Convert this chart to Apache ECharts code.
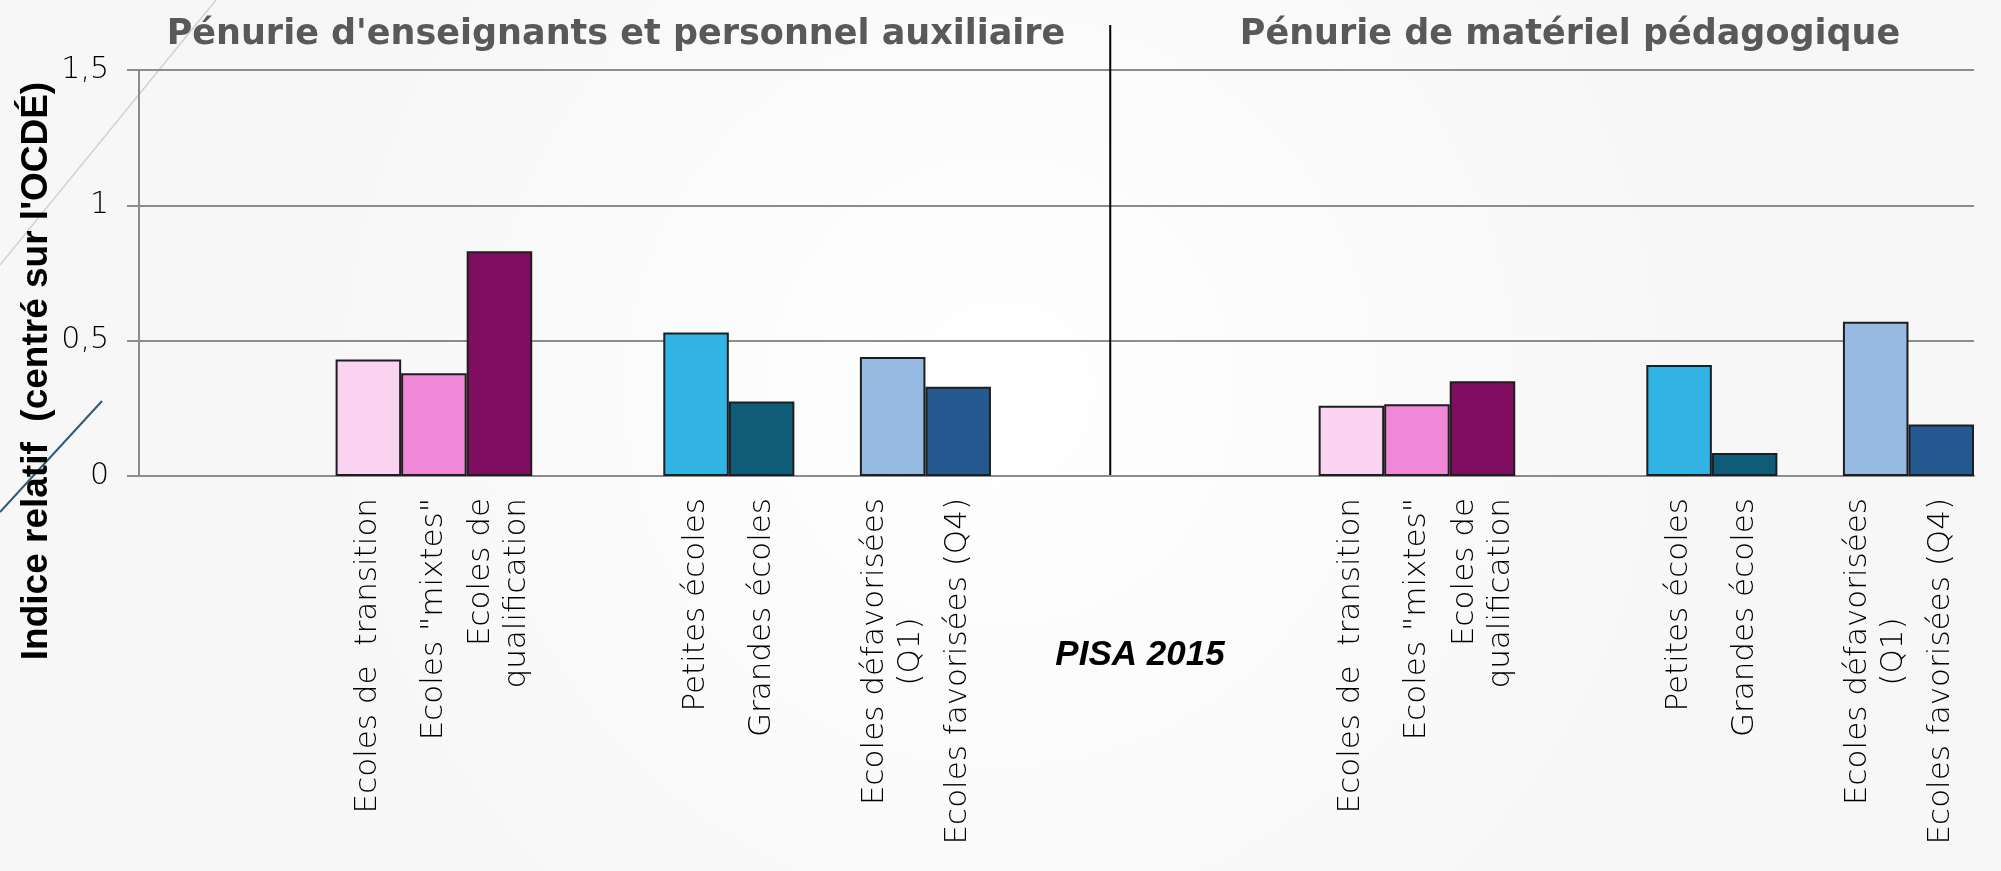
<!DOCTYPE html>
<html>
<head>
<meta charset="utf-8">
<script src="https://cdn.jsdelivr.net/npm/echarts@6/dist/echarts.min.js"></script>
<style>
html, body { margin: 0; padding: 0; }
#chart { width: 2001px; height: 871px; }
</style>
</head>
<body>
<div id="chart"></div>
<script>
// catégories d'écoles (même ordre dans les deux panneaux)
var categories = ['Ecoles de  transition', 'Ecoles "mixtes"', 'Ecoles de\nqualification',
                  'Petites écoles', 'Grandes écoles',
                  'Ecoles défavorisées\n(Q1)', 'Ecoles favorisées (Q4)'];
var barColors = ['#f9d3f0', '#f088d8', '#800e60', '#31b4e4', '#0f5c78', '#96bae1', '#265990'];

// indice relatif (centré sur l'OCDE)
var penurieEnseignants = [0.43, 0.38, 0.83, 0.53, 0.275, 0.44, 0.33];
var penurieMateriel    = [0.26, 0.265, 0.35, 0.41, 0.085, 0.57, 0.19];

var panelTitles = ["Pénurie d'enseignants et personnel auxiliaire", 'Pénurie de matériel pédagogique'];
var yTicks = [0, 0.5, 1, 1.5];

// une case par barre, avec des cases vides entre les groupes
var slotText = [];
var slotData = [];
function gap(n) {
	for (var i = 0; i < n; i++) {
		slotText.push('');
		slotData.push('-');
	}
}
function bars(vals, from, to) {
	for (var i = from; i < to; i++) {
		slotText.push(categories[i]);
		slotData.push({ value: vals[i], itemStyle: { color: barColors[i] } });
	}
}
[penurieEnseignants, penurieMateriel].forEach(function (vals, p) {
	gap(p === 0 ? 3 : 5);
	bars(vals, 0, 3);
	gap(2);
	bars(vals, 3, 5);
	gap(1);
	bars(vals, 5, 7);
});

var labelFont = 'DejaVu Sans';

var myChart = echarts.init(document.getElementById('chart'));
var option = {
	animation: false,
	backgroundColor: {
		type: 'radial', x: 0.5, y: 0.45, r: 0.8,
		colorStops: [{ offset: 0, color: '#ffffff' }, { offset: 1, color: '#f7f7f7' }]
	},
	grid: { left: 139, right: 27, top: 70, height: 406 },
	xAxis: {
		type: 'category',
		data: slotText.map(function (t, i) { return 's' + i; }),
		axisLine: { show: true, lineStyle: { color: '#8c8c8c', width: 2 } },
		axisTick: { show: false },
		axisLabel: {
			interval: 0,
			rotate: 90,
			margin: 22,
			fontFamily: labelFont,
			fontWeight: 300,
			fontSize: 31,
			lineHeight: 36,
			color: '#000',
			formatter: function (v, i) {
				// deuxième ligne entre parenthèses : centrée
				return slotText[i].replace(/\n(\(.*\))$/, '\n{c|$1}');
			},
			rich: {
				c: { align: 'center', fontFamily: labelFont, fontWeight: 300, fontSize: 31, lineHeight: 36, color: '#000' }
			}
		}
	},
	yAxis: {
		type: 'value',
		min: yTicks[0],
		max: yTicks[yTicks.length - 1],
		interval: 0.5,
		axisLine: { show: true, lineStyle: { color: '#8c8c8c', width: 2 } },
		axisTick: { show: true, length: 12, lineStyle: { color: '#8c8c8c', width: 2 } },
		splitLine: { lineStyle: { color: '#8c8c8c', width: 2 } },
		axisLabel: {
			margin: 30,
			fontFamily: labelFont,
			fontWeight: 300,
			fontSize: 30,
			color: '#000',
			formatter: function (v) { return String(v).replace('.', ','); }
		}
	},
	series: [{
		type: 'bar',
		silent: true,
		barCategoryGap: '0%',
		itemStyle: { borderColor: '#1e1e1e', borderWidth: 2 },
		data: slotData
	}]
};
myChart.setOption(option);

// séparateur entre les deux panneaux
var x14 = myChart.convertToPixel({ xAxisIndex: 0 }, 14);
var x15 = myChart.convertToPixel({ xAxisIndex: 0 }, 15);
var xSep = x14 + (x15 - x14) * 0.32;
var yZero = myChart.convertToPixel({ yAxisIndex: 0 }, 0);

var titleFont = 'bold 35px "DejaVu Sans"';

myChart.setOption({
	graphic: [
		// traits décoratifs du fond
		{ type: 'line', silent: true, z: -1, shape: { x1: 216, y1: 0, x2: 0, y2: 265 },
		  style: { stroke: '#c9d4dc', lineWidth: 1.5 } },
		{ type: 'line', silent: true, z: -1, shape: { x1: 102, y1: 401, x2: 0, y2: 512 },
		  style: { stroke: '#2f5a78', lineWidth: 2 } },
		{ type: 'line', silent: true, shape: { x1: xSep, y1: 25, x2: xSep, y2: yZero },
		  style: { stroke: '#000', lineWidth: 2 } },
		{ type: 'text', silent: true, x: 616, y: 35,
		  style: { text: panelTitles[0], font: titleFont, fill: '#595959', align: 'center', verticalAlign: 'middle' } },
		{ type: 'text', silent: true, x: 1570, y: 35,
		  style: { text: panelTitles[1], font: titleFont, fill: '#595959', align: 'center', verticalAlign: 'middle' } },
		{ type: 'text', silent: true, x: 37, y: 371, rotation: Math.PI / 2,
		  style: { text: "Indice relatif  (centré sur l'OCDÉ)", font: 'bold 37px "Liberation Sans"', fill: '#000', align: 'center', verticalAlign: 'middle' } },
		{ type: 'text', silent: true, x: 1140, y: 655,
		  style: { text: 'PISA 2015', font: 'italic bold 35px "Liberation Sans"', fill: '#000', align: 'center', verticalAlign: 'middle' } }
	]
});
</script>
</body>
</html>
